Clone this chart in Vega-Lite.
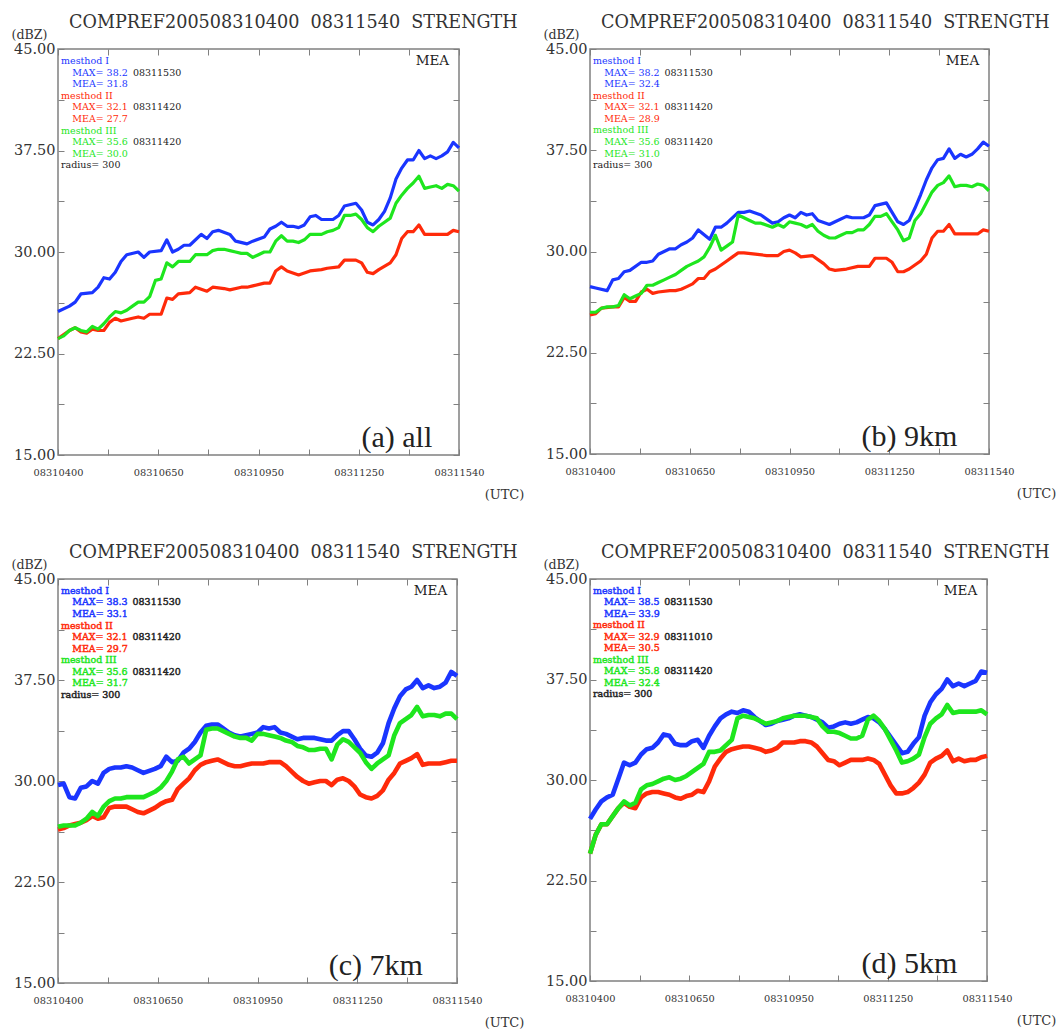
{
"$schema":"https://vega.github.io/schema/vega-lite/v6.json",
"background":"white",
"padding":{"left":10,"top":13,"right":0,"bottom":0},
"config":{
 "view":{"stroke":"#808080","strokeWidth":1.5},
 "axis":{"grid":false,"domain":false,"tickColor":"#808080","tickWidth":1,"tickSize":-6,"labelFlush":false,"labelOverlap":false,"labelBound":false,"labelColor":"#333","titleColor":"#333","titleFontWeight":"normal","labelFont":"DejaVu Serif","titleFont":"DejaVu Serif"},
 "title":{"font":"DejaVu Serif","fontSize":17.6,"fontWeight":"normal","color":"#333","anchor":"start","frame":"group","dx":11,"offset":-4,"baseline":"alphabetic"}
},
"datasets":{
"d":[
{"p":"a","m":"I","s":0,"v":25.6},{"p":"a","m":"I","s":2,"v":26.0},{"p":"a","m":"I","s":3,"v":26.3},{"p":"a","m":"I","s":4,"v":26.9},{"p":"a","m":"I","s":6,"v":27.0},{"p":"a","m":"I","s":7,"v":27.4},{"p":"a","m":"I","s":8,"v":28.1},{"p":"a","m":"I","s":9,"v":28.0},{"p":"a","m":"I","s":10,"v":28.5},{"p":"a","m":"I","s":11,"v":29.3},{"p":"a","m":"I","s":12,"v":29.8},{"p":"a","m":"I","s":14,"v":30.0},{"p":"a","m":"I","s":15,"v":29.6},{"p":"a","m":"I","s":16,"v":30.0},{"p":"a","m":"I","s":18,"v":30.1},{"p":"a","m":"I","s":19,"v":30.9},{"p":"a","m":"I","s":20,"v":30.0},{"p":"a","m":"I","s":21,"v":30.2},{"p":"a","m":"I","s":22,"v":30.5},{"p":"a","m":"I","s":23,"v":30.5},{"p":"a","m":"I","s":25,"v":31.3},{"p":"a","m":"I","s":26,"v":31.0},{"p":"a","m":"I","s":27,"v":31.5},{"p":"a","m":"I","s":28,"v":31.6},{"p":"a","m":"I","s":30,"v":31.3},{"p":"a","m":"I","s":31,"v":30.8},{"p":"a","m":"I","s":33,"v":30.6},{"p":"a","m":"I","s":34,"v":30.8},{"p":"a","m":"I","s":36,"v":31.1},{"p":"a","m":"I","s":37,"v":31.7},{"p":"a","m":"I","s":38,"v":31.9},{"p":"a","m":"I","s":39,"v":32.2},{"p":"a","m":"I","s":40,"v":31.9},{"p":"a","m":"I","s":41,"v":31.9},{"p":"a","m":"I","s":42,"v":31.8},{"p":"a","m":"I","s":43,"v":32.0},{"p":"a","m":"I","s":44,"v":32.6},{"p":"a","m":"I","s":45,"v":32.7},{"p":"a","m":"I","s":46,"v":32.4},{"p":"a","m":"I","s":48,"v":32.4},{"p":"a","m":"I","s":49,"v":32.7},{"p":"a","m":"I","s":50,"v":33.4},{"p":"a","m":"I","s":52,"v":33.6},{"p":"a","m":"I","s":53,"v":33.1},{"p":"a","m":"I","s":54,"v":32.2},{"p":"a","m":"I","s":55,"v":32.0},{"p":"a","m":"I","s":56,"v":32.4},{"p":"a","m":"I","s":57,"v":33.0},{"p":"a","m":"I","s":58,"v":34.0},{"p":"a","m":"I","s":59,"v":35.4},{"p":"a","m":"I","s":60,"v":36.2},{"p":"a","m":"I","s":61,"v":36.8},{"p":"a","m":"I","s":62,"v":36.8},{"p":"a","m":"I","s":63,"v":37.5},{"p":"a","m":"I","s":64,"v":36.9},{"p":"a","m":"I","s":65,"v":37.1},{"p":"a","m":"I","s":66,"v":36.9},{"p":"a","m":"I","s":67,"v":37.1},{"p":"a","m":"I","s":68,"v":37.4},{"p":"a","m":"I","s":69,"v":38.1},{"p":"a","m":"I","s":70,"v":37.7},
{"p":"a","m":"II","s":0,"v":23.6},{"p":"a","m":"II","s":2,"v":24.2},{"p":"a","m":"II","s":3,"v":24.4},{"p":"a","m":"II","s":4,"v":24.1},{"p":"a","m":"II","s":5,"v":24.0},{"p":"a","m":"II","s":6,"v":24.3},{"p":"a","m":"II","s":7,"v":24.2},{"p":"a","m":"II","s":8,"v":24.2},{"p":"a","m":"II","s":9,"v":24.8},{"p":"a","m":"II","s":10,"v":25.1},{"p":"a","m":"II","s":11,"v":24.9},{"p":"a","m":"II","s":13,"v":25.1},{"p":"a","m":"II","s":14,"v":25.2},{"p":"a","m":"II","s":15,"v":25.1},{"p":"a","m":"II","s":16,"v":25.4},{"p":"a","m":"II","s":18,"v":25.4},{"p":"a","m":"II","s":19,"v":26.6},{"p":"a","m":"II","s":20,"v":26.5},{"p":"a","m":"II","s":21,"v":26.9},{"p":"a","m":"II","s":23,"v":27.0},{"p":"a","m":"II","s":24,"v":27.4},{"p":"a","m":"II","s":26,"v":27.1},{"p":"a","m":"II","s":27,"v":27.4},{"p":"a","m":"II","s":29,"v":27.3},{"p":"a","m":"II","s":30,"v":27.2},{"p":"a","m":"II","s":32,"v":27.4},{"p":"a","m":"II","s":33,"v":27.4},{"p":"a","m":"II","s":34,"v":27.5},{"p":"a","m":"II","s":36,"v":27.7},{"p":"a","m":"II","s":37,"v":27.7},{"p":"a","m":"II","s":38,"v":28.6},{"p":"a","m":"II","s":39,"v":28.9},{"p":"a","m":"II","s":40,"v":28.6},{"p":"a","m":"II","s":42,"v":28.3},{"p":"a","m":"II","s":44,"v":28.6},{"p":"a","m":"II","s":46,"v":28.7},{"p":"a","m":"II","s":47,"v":28.8},{"p":"a","m":"II","s":49,"v":28.9},{"p":"a","m":"II","s":50,"v":29.4},{"p":"a","m":"II","s":52,"v":29.4},{"p":"a","m":"II","s":53,"v":29.2},{"p":"a","m":"II","s":54,"v":28.5},{"p":"a","m":"II","s":55,"v":28.4},{"p":"a","m":"II","s":56,"v":28.7},{"p":"a","m":"II","s":58,"v":29.2},{"p":"a","m":"II","s":59,"v":29.8},{"p":"a","m":"II","s":60,"v":31.0},{"p":"a","m":"II","s":61,"v":31.5},{"p":"a","m":"II","s":62,"v":31.5},{"p":"a","m":"II","s":63,"v":32.0},{"p":"a","m":"II","s":64,"v":31.3},{"p":"a","m":"II","s":65,"v":31.3},{"p":"a","m":"II","s":66,"v":31.3},{"p":"a","m":"II","s":68,"v":31.3},{"p":"a","m":"II","s":69,"v":31.6},{"p":"a","m":"II","s":70,"v":31.5},
{"p":"a","m":"III","s":0,"v":23.6},{"p":"a","m":"III","s":1,"v":23.8},{"p":"a","m":"III","s":2,"v":24.2},{"p":"a","m":"III","s":3,"v":24.4},{"p":"a","m":"III","s":4,"v":24.2},{"p":"a","m":"III","s":5,"v":24.1},{"p":"a","m":"III","s":6,"v":24.5},{"p":"a","m":"III","s":7,"v":24.3},{"p":"a","m":"III","s":8,"v":24.7},{"p":"a","m":"III","s":9,"v":25.2},{"p":"a","m":"III","s":10,"v":25.6},{"p":"a","m":"III","s":11,"v":25.5},{"p":"a","m":"III","s":12,"v":25.7},{"p":"a","m":"III","s":13,"v":26.0},{"p":"a","m":"III","s":14,"v":26.3},{"p":"a","m":"III","s":15,"v":26.3},{"p":"a","m":"III","s":16,"v":26.7},{"p":"a","m":"III","s":17,"v":27.9},{"p":"a","m":"III","s":18,"v":28.0},{"p":"a","m":"III","s":19,"v":29.2},{"p":"a","m":"III","s":20,"v":28.9},{"p":"a","m":"III","s":21,"v":29.3},{"p":"a","m":"III","s":22,"v":29.3},{"p":"a","m":"III","s":23,"v":29.3},{"p":"a","m":"III","s":24,"v":29.8},{"p":"a","m":"III","s":25,"v":29.8},{"p":"a","m":"III","s":26,"v":29.8},{"p":"a","m":"III","s":27,"v":30.1},{"p":"a","m":"III","s":28,"v":30.2},{"p":"a","m":"III","s":29,"v":30.2},{"p":"a","m":"III","s":30,"v":30.1},{"p":"a","m":"III","s":31,"v":30.0},{"p":"a","m":"III","s":32,"v":29.9},{"p":"a","m":"III","s":33,"v":29.9},{"p":"a","m":"III","s":34,"v":29.6},{"p":"a","m":"III","s":35,"v":29.8},{"p":"a","m":"III","s":36,"v":30.0},{"p":"a","m":"III","s":37,"v":30.0},{"p":"a","m":"III","s":38,"v":30.8},{"p":"a","m":"III","s":39,"v":31.2},{"p":"a","m":"III","s":40,"v":30.8},{"p":"a","m":"III","s":41,"v":30.8},{"p":"a","m":"III","s":42,"v":30.7},{"p":"a","m":"III","s":43,"v":30.9},{"p":"a","m":"III","s":44,"v":31.3},{"p":"a","m":"III","s":45,"v":31.3},{"p":"a","m":"III","s":46,"v":31.3},{"p":"a","m":"III","s":47,"v":31.5},{"p":"a","m":"III","s":48,"v":31.6},{"p":"a","m":"III","s":49,"v":31.8},{"p":"a","m":"III","s":50,"v":32.7},{"p":"a","m":"III","s":51,"v":32.7},{"p":"a","m":"III","s":52,"v":32.8},{"p":"a","m":"III","s":53,"v":32.4},{"p":"a","m":"III","s":54,"v":31.8},{"p":"a","m":"III","s":55,"v":31.5},{"p":"a","m":"III","s":56,"v":31.9},{"p":"a","m":"III","s":57,"v":32.2},{"p":"a","m":"III","s":58,"v":32.5},{"p":"a","m":"III","s":59,"v":33.6},{"p":"a","m":"III","s":60,"v":34.2},{"p":"a","m":"III","s":61,"v":34.7},{"p":"a","m":"III","s":62,"v":35.1},{"p":"a","m":"III","s":63,"v":35.6},{"p":"a","m":"III","s":64,"v":34.7},{"p":"a","m":"III","s":65,"v":34.8},{"p":"a","m":"III","s":66,"v":34.9},{"p":"a","m":"III","s":67,"v":34.7},{"p":"a","m":"III","s":68,"v":35.0},{"p":"a","m":"III","s":69,"v":34.9},{"p":"a","m":"III","s":70,"v":34.5},
{"p":"b","m":"I","s":0,"v":27.4},{"p":"b","m":"I","s":1,"v":27.3},{"p":"b","m":"I","s":3,"v":27.1},{"p":"b","m":"I","s":4,"v":27.9},{"p":"b","m":"I","s":5,"v":28.0},{"p":"b","m":"I","s":6,"v":28.5},{"p":"b","m":"I","s":7,"v":28.6},{"p":"b","m":"I","s":9,"v":29.2},{"p":"b","m":"I","s":10,"v":29.2},{"p":"b","m":"I","s":11,"v":29.3},{"p":"b","m":"I","s":12,"v":29.8},{"p":"b","m":"I","s":14,"v":30.2},{"p":"b","m":"I","s":15,"v":30.2},{"p":"b","m":"I","s":16,"v":30.5},{"p":"b","m":"I","s":17,"v":30.7},{"p":"b","m":"I","s":18,"v":31.0},{"p":"b","m":"I","s":19,"v":31.6},{"p":"b","m":"I","s":21,"v":30.9},{"p":"b","m":"I","s":22,"v":31.8},{"p":"b","m":"I","s":23,"v":31.8},{"p":"b","m":"I","s":24,"v":32.1},{"p":"b","m":"I","s":26,"v":32.9},{"p":"b","m":"I","s":27,"v":32.9},{"p":"b","m":"I","s":28,"v":33.0},{"p":"b","m":"I","s":30,"v":32.7},{"p":"b","m":"I","s":32,"v":32.1},{"p":"b","m":"I","s":33,"v":32.2},{"p":"b","m":"I","s":34,"v":32.5},{"p":"b","m":"I","s":35,"v":32.7},{"p":"b","m":"I","s":36,"v":32.5},{"p":"b","m":"I","s":37,"v":32.9},{"p":"b","m":"I","s":38,"v":32.7},{"p":"b","m":"I","s":39,"v":32.8},{"p":"b","m":"I","s":40,"v":32.3},{"p":"b","m":"I","s":42,"v":32.0},{"p":"b","m":"I","s":43,"v":32.2},{"p":"b","m":"I","s":45,"v":32.6},{"p":"b","m":"I","s":46,"v":32.5},{"p":"b","m":"I","s":48,"v":32.5},{"p":"b","m":"I","s":49,"v":32.7},{"p":"b","m":"I","s":50,"v":33.4},{"p":"b","m":"I","s":52,"v":33.6},{"p":"b","m":"I","s":53,"v":32.9},{"p":"b","m":"I","s":54,"v":32.2},{"p":"b","m":"I","s":55,"v":32.0},{"p":"b","m":"I","s":56,"v":32.3},{"p":"b","m":"I","s":57,"v":33.2},{"p":"b","m":"I","s":58,"v":34.2},{"p":"b","m":"I","s":59,"v":35.3},{"p":"b","m":"I","s":60,"v":36.2},{"p":"b","m":"I","s":61,"v":36.8},{"p":"b","m":"I","s":62,"v":36.9},{"p":"b","m":"I","s":63,"v":37.6},{"p":"b","m":"I","s":64,"v":36.9},{"p":"b","m":"I","s":65,"v":37.2},{"p":"b","m":"I","s":66,"v":37.0},{"p":"b","m":"I","s":67,"v":37.2},{"p":"b","m":"I","s":68,"v":37.6},{"p":"b","m":"I","s":69,"v":38.1},{"p":"b","m":"I","s":70,"v":37.8},
{"p":"b","m":"II","s":0,"v":25.3},{"p":"b","m":"II","s":1,"v":25.4},{"p":"b","m":"II","s":2,"v":25.8},{"p":"b","m":"II","s":4,"v":25.9},{"p":"b","m":"II","s":5,"v":25.9},{"p":"b","m":"II","s":6,"v":26.6},{"p":"b","m":"II","s":7,"v":26.3},{"p":"b","m":"II","s":8,"v":26.3},{"p":"b","m":"II","s":9,"v":27.0},{"p":"b","m":"II","s":10,"v":27.2},{"p":"b","m":"II","s":11,"v":26.9},{"p":"b","m":"II","s":12,"v":27.0},{"p":"b","m":"II","s":14,"v":27.1},{"p":"b","m":"II","s":15,"v":27.1},{"p":"b","m":"II","s":16,"v":27.2},{"p":"b","m":"II","s":17,"v":27.4},{"p":"b","m":"II","s":18,"v":27.6},{"p":"b","m":"II","s":19,"v":28.0},{"p":"b","m":"II","s":20,"v":28.0},{"p":"b","m":"II","s":21,"v":28.5},{"p":"b","m":"II","s":22,"v":28.7},{"p":"b","m":"II","s":23,"v":29.0},{"p":"b","m":"II","s":24,"v":29.3},{"p":"b","m":"II","s":25,"v":29.6},{"p":"b","m":"II","s":26,"v":29.9},{"p":"b","m":"II","s":27,"v":29.9},{"p":"b","m":"II","s":29,"v":29.8},{"p":"b","m":"II","s":31,"v":29.7},{"p":"b","m":"II","s":33,"v":29.7},{"p":"b","m":"II","s":34,"v":30.0},{"p":"b","m":"II","s":35,"v":30.1},{"p":"b","m":"II","s":36,"v":29.9},{"p":"b","m":"II","s":37,"v":29.6},{"p":"b","m":"II","s":39,"v":29.7},{"p":"b","m":"II","s":40,"v":29.4},{"p":"b","m":"II","s":41,"v":29.1},{"p":"b","m":"II","s":42,"v":28.7},{"p":"b","m":"II","s":43,"v":28.6},{"p":"b","m":"II","s":45,"v":28.7},{"p":"b","m":"II","s":47,"v":28.9},{"p":"b","m":"II","s":49,"v":28.9},{"p":"b","m":"II","s":50,"v":29.5},{"p":"b","m":"II","s":52,"v":29.5},{"p":"b","m":"II","s":53,"v":29.2},{"p":"b","m":"II","s":54,"v":28.5},{"p":"b","m":"II","s":55,"v":28.5},{"p":"b","m":"II","s":56,"v":28.7},{"p":"b","m":"II","s":58,"v":29.3},{"p":"b","m":"II","s":59,"v":29.8},{"p":"b","m":"II","s":60,"v":31.0},{"p":"b","m":"II","s":61,"v":31.5},{"p":"b","m":"II","s":62,"v":31.5},{"p":"b","m":"II","s":63,"v":32.0},{"p":"b","m":"II","s":64,"v":31.3},{"p":"b","m":"II","s":65,"v":31.3},{"p":"b","m":"II","s":66,"v":31.3},{"p":"b","m":"II","s":68,"v":31.3},{"p":"b","m":"II","s":69,"v":31.6},{"p":"b","m":"II","s":70,"v":31.5},
{"p":"b","m":"III","s":0,"v":25.5},{"p":"b","m":"III","s":1,"v":25.5},{"p":"b","m":"III","s":2,"v":25.8},{"p":"b","m":"III","s":3,"v":25.9},{"p":"b","m":"III","s":4,"v":25.9},{"p":"b","m":"III","s":5,"v":26.0},{"p":"b","m":"III","s":6,"v":26.8},{"p":"b","m":"III","s":7,"v":26.5},{"p":"b","m":"III","s":8,"v":26.7},{"p":"b","m":"III","s":9,"v":26.9},{"p":"b","m":"III","s":10,"v":27.5},{"p":"b","m":"III","s":11,"v":27.5},{"p":"b","m":"III","s":12,"v":27.7},{"p":"b","m":"III","s":13,"v":27.9},{"p":"b","m":"III","s":14,"v":28.1},{"p":"b","m":"III","s":15,"v":28.3},{"p":"b","m":"III","s":16,"v":28.6},{"p":"b","m":"III","s":17,"v":28.9},{"p":"b","m":"III","s":18,"v":29.1},{"p":"b","m":"III","s":19,"v":29.3},{"p":"b","m":"III","s":20,"v":29.6},{"p":"b","m":"III","s":21,"v":30.3},{"p":"b","m":"III","s":22,"v":31.2},{"p":"b","m":"III","s":23,"v":30.1},{"p":"b","m":"III","s":24,"v":30.4},{"p":"b","m":"III","s":25,"v":30.7},{"p":"b","m":"III","s":26,"v":32.7},{"p":"b","m":"III","s":27,"v":32.5},{"p":"b","m":"III","s":28,"v":32.3},{"p":"b","m":"III","s":29,"v":32.1},{"p":"b","m":"III","s":30,"v":32.1},{"p":"b","m":"III","s":32,"v":31.8},{"p":"b","m":"III","s":33,"v":32.0},{"p":"b","m":"III","s":34,"v":31.8},{"p":"b","m":"III","s":35,"v":32.2},{"p":"b","m":"III","s":36,"v":32.1},{"p":"b","m":"III","s":37,"v":32.0},{"p":"b","m":"III","s":38,"v":31.8},{"p":"b","m":"III","s":39,"v":32.0},{"p":"b","m":"III","s":40,"v":31.5},{"p":"b","m":"III","s":41,"v":31.2},{"p":"b","m":"III","s":42,"v":31.0},{"p":"b","m":"III","s":43,"v":31.0},{"p":"b","m":"III","s":44,"v":31.2},{"p":"b","m":"III","s":45,"v":31.4},{"p":"b","m":"III","s":46,"v":31.4},{"p":"b","m":"III","s":47,"v":31.6},{"p":"b","m":"III","s":48,"v":31.6},{"p":"b","m":"III","s":49,"v":32.0},{"p":"b","m":"III","s":50,"v":32.6},{"p":"b","m":"III","s":51,"v":32.6},{"p":"b","m":"III","s":52,"v":32.8},{"p":"b","m":"III","s":53,"v":32.2},{"p":"b","m":"III","s":54,"v":31.6},{"p":"b","m":"III","s":55,"v":30.8},{"p":"b","m":"III","s":56,"v":31.0},{"p":"b","m":"III","s":57,"v":32.3},{"p":"b","m":"III","s":58,"v":32.8},{"p":"b","m":"III","s":59,"v":33.6},{"p":"b","m":"III","s":60,"v":34.4},{"p":"b","m":"III","s":61,"v":34.9},{"p":"b","m":"III","s":62,"v":35.1},{"p":"b","m":"III","s":63,"v":35.6},{"p":"b","m":"III","s":64,"v":34.8},{"p":"b","m":"III","s":65,"v":34.9},{"p":"b","m":"III","s":66,"v":34.9},{"p":"b","m":"III","s":67,"v":34.8},{"p":"b","m":"III","s":68,"v":35.0},{"p":"b","m":"III","s":69,"v":34.9},{"p":"b","m":"III","s":70,"v":34.5},
{"p":"c","m":"I","s":0,"v":29.7},{"p":"c","m":"I","s":1,"v":29.8},{"p":"c","m":"I","s":2,"v":28.8},{"p":"c","m":"I","s":3,"v":28.7},{"p":"c","m":"I","s":4,"v":29.5},{"p":"c","m":"I","s":5,"v":29.6},{"p":"c","m":"I","s":6,"v":30.0},{"p":"c","m":"I","s":7,"v":29.8},{"p":"c","m":"I","s":8,"v":30.6},{"p":"c","m":"I","s":9,"v":30.9},{"p":"c","m":"I","s":10,"v":31.0},{"p":"c","m":"I","s":11,"v":31.0},{"p":"c","m":"I","s":12,"v":31.1},{"p":"c","m":"I","s":13,"v":31.0},{"p":"c","m":"I","s":14,"v":30.8},{"p":"c","m":"I","s":15,"v":30.6},{"p":"c","m":"I","s":17,"v":30.9},{"p":"c","m":"I","s":18,"v":31.1},{"p":"c","m":"I","s":19,"v":31.8},{"p":"c","m":"I","s":20,"v":31.4},{"p":"c","m":"I","s":21,"v":31.5},{"p":"c","m":"I","s":22,"v":32.1},{"p":"c","m":"I","s":23,"v":32.4},{"p":"c","m":"I","s":24,"v":32.9},{"p":"c","m":"I","s":25,"v":33.6},{"p":"c","m":"I","s":26,"v":34.1},{"p":"c","m":"I","s":27,"v":34.2},{"p":"c","m":"I","s":28,"v":34.2},{"p":"c","m":"I","s":29,"v":33.9},{"p":"c","m":"I","s":30,"v":33.6},{"p":"c","m":"I","s":31,"v":33.4},{"p":"c","m":"I","s":32,"v":33.3},{"p":"c","m":"I","s":33,"v":33.4},{"p":"c","m":"I","s":34,"v":33.5},{"p":"c","m":"I","s":35,"v":33.6},{"p":"c","m":"I","s":36,"v":34.0},{"p":"c","m":"I","s":37,"v":33.9},{"p":"c","m":"I","s":38,"v":34.0},{"p":"c","m":"I","s":39,"v":33.6},{"p":"c","m":"I","s":40,"v":33.5},{"p":"c","m":"I","s":41,"v":33.3},{"p":"c","m":"I","s":42,"v":33.1},{"p":"c","m":"I","s":43,"v":33.2},{"p":"c","m":"I","s":44,"v":33.2},{"p":"c","m":"I","s":45,"v":33.2},{"p":"c","m":"I","s":46,"v":33.1},{"p":"c","m":"I","s":47,"v":33.0},{"p":"c","m":"I","s":48,"v":33.0},{"p":"c","m":"I","s":49,"v":33.4},{"p":"c","m":"I","s":50,"v":33.7},{"p":"c","m":"I","s":51,"v":33.7},{"p":"c","m":"I","s":52,"v":33.1},{"p":"c","m":"I","s":53,"v":32.4},{"p":"c","m":"I","s":54,"v":31.9},{"p":"c","m":"I","s":55,"v":31.8},{"p":"c","m":"I","s":56,"v":32.1},{"p":"c","m":"I","s":57,"v":32.8},{"p":"c","m":"I","s":58,"v":34.3},{"p":"c","m":"I","s":59,"v":35.4},{"p":"c","m":"I","s":60,"v":36.3},{"p":"c","m":"I","s":61,"v":36.8},{"p":"c","m":"I","s":62,"v":37.0},{"p":"c","m":"I","s":63,"v":37.5},{"p":"c","m":"I","s":64,"v":36.9},{"p":"c","m":"I","s":65,"v":37.1},{"p":"c","m":"I","s":66,"v":36.9},{"p":"c","m":"I","s":67,"v":37.0},{"p":"c","m":"I","s":68,"v":37.3},{"p":"c","m":"I","s":69,"v":38.1},{"p":"c","m":"I","s":70,"v":37.8},
{"p":"c","m":"II","s":0,"v":26.4},{"p":"c","m":"II","s":1,"v":26.5},{"p":"c","m":"II","s":2,"v":26.7},{"p":"c","m":"II","s":3,"v":26.8},{"p":"c","m":"II","s":4,"v":26.9},{"p":"c","m":"II","s":5,"v":27.1},{"p":"c","m":"II","s":6,"v":27.4},{"p":"c","m":"II","s":7,"v":27.2},{"p":"c","m":"II","s":8,"v":27.3},{"p":"c","m":"II","s":9,"v":28.0},{"p":"c","m":"II","s":10,"v":28.1},{"p":"c","m":"II","s":11,"v":28.1},{"p":"c","m":"II","s":12,"v":28.1},{"p":"c","m":"II","s":13,"v":27.9},{"p":"c","m":"II","s":14,"v":27.7},{"p":"c","m":"II","s":15,"v":27.6},{"p":"c","m":"II","s":16,"v":27.8},{"p":"c","m":"II","s":17,"v":28.0},{"p":"c","m":"II","s":18,"v":28.3},{"p":"c","m":"II","s":19,"v":28.5},{"p":"c","m":"II","s":20,"v":28.6},{"p":"c","m":"II","s":21,"v":29.4},{"p":"c","m":"II","s":22,"v":29.8},{"p":"c","m":"II","s":23,"v":30.2},{"p":"c","m":"II","s":24,"v":30.8},{"p":"c","m":"II","s":25,"v":31.2},{"p":"c","m":"II","s":26,"v":31.4},{"p":"c","m":"II","s":27,"v":31.5},{"p":"c","m":"II","s":28,"v":31.6},{"p":"c","m":"II","s":29,"v":31.4},{"p":"c","m":"II","s":30,"v":31.2},{"p":"c","m":"II","s":31,"v":31.1},{"p":"c","m":"II","s":32,"v":31.1},{"p":"c","m":"II","s":33,"v":31.2},{"p":"c","m":"II","s":34,"v":31.3},{"p":"c","m":"II","s":35,"v":31.3},{"p":"c","m":"II","s":36,"v":31.3},{"p":"c","m":"II","s":37,"v":31.4},{"p":"c","m":"II","s":38,"v":31.4},{"p":"c","m":"II","s":39,"v":31.4},{"p":"c","m":"II","s":40,"v":31.1},{"p":"c","m":"II","s":41,"v":30.7},{"p":"c","m":"II","s":42,"v":30.3},{"p":"c","m":"II","s":43,"v":30.0},{"p":"c","m":"II","s":44,"v":29.8},{"p":"c","m":"II","s":45,"v":29.9},{"p":"c","m":"II","s":46,"v":30.0},{"p":"c","m":"II","s":47,"v":30.0},{"p":"c","m":"II","s":48,"v":29.7},{"p":"c","m":"II","s":49,"v":30.1},{"p":"c","m":"II","s":50,"v":30.2},{"p":"c","m":"II","s":51,"v":30.0},{"p":"c","m":"II","s":52,"v":29.6},{"p":"c","m":"II","s":53,"v":29.0},{"p":"c","m":"II","s":54,"v":28.8},{"p":"c","m":"II","s":55,"v":28.7},{"p":"c","m":"II","s":56,"v":28.9},{"p":"c","m":"II","s":57,"v":29.3},{"p":"c","m":"II","s":58,"v":30.1},{"p":"c","m":"II","s":59,"v":30.6},{"p":"c","m":"II","s":60,"v":31.3},{"p":"c","m":"II","s":61,"v":31.5},{"p":"c","m":"II","s":62,"v":31.7},{"p":"c","m":"II","s":63,"v":32.0},{"p":"c","m":"II","s":64,"v":31.2},{"p":"c","m":"II","s":65,"v":31.3},{"p":"c","m":"II","s":66,"v":31.3},{"p":"c","m":"II","s":67,"v":31.3},{"p":"c","m":"II","s":68,"v":31.4},{"p":"c","m":"II","s":69,"v":31.5},{"p":"c","m":"II","s":70,"v":31.5},
{"p":"c","m":"III","s":0,"v":26.6},{"p":"c","m":"III","s":1,"v":26.7},{"p":"c","m":"III","s":2,"v":26.7},{"p":"c","m":"III","s":3,"v":26.7},{"p":"c","m":"III","s":4,"v":26.9},{"p":"c","m":"III","s":5,"v":27.2},{"p":"c","m":"III","s":6,"v":27.7},{"p":"c","m":"III","s":7,"v":27.4},{"p":"c","m":"III","s":8,"v":28.1},{"p":"c","m":"III","s":9,"v":28.5},{"p":"c","m":"III","s":10,"v":28.7},{"p":"c","m":"III","s":11,"v":28.7},{"p":"c","m":"III","s":12,"v":28.8},{"p":"c","m":"III","s":13,"v":28.8},{"p":"c","m":"III","s":14,"v":28.8},{"p":"c","m":"III","s":15,"v":28.8},{"p":"c","m":"III","s":16,"v":29.0},{"p":"c","m":"III","s":17,"v":29.2},{"p":"c","m":"III","s":18,"v":29.5},{"p":"c","m":"III","s":19,"v":30.0},{"p":"c","m":"III","s":20,"v":30.7},{"p":"c","m":"III","s":21,"v":31.6},{"p":"c","m":"III","s":22,"v":31.8},{"p":"c","m":"III","s":23,"v":31.3},{"p":"c","m":"III","s":24,"v":31.6},{"p":"c","m":"III","s":25,"v":31.9},{"p":"c","m":"III","s":26,"v":33.8},{"p":"c","m":"III","s":27,"v":33.9},{"p":"c","m":"III","s":28,"v":33.9},{"p":"c","m":"III","s":29,"v":33.7},{"p":"c","m":"III","s":30,"v":33.5},{"p":"c","m":"III","s":31,"v":33.3},{"p":"c","m":"III","s":32,"v":33.2},{"p":"c","m":"III","s":33,"v":33.2},{"p":"c","m":"III","s":34,"v":33.0},{"p":"c","m":"III","s":35,"v":33.5},{"p":"c","m":"III","s":36,"v":33.5},{"p":"c","m":"III","s":37,"v":33.4},{"p":"c","m":"III","s":38,"v":33.3},{"p":"c","m":"III","s":39,"v":33.2},{"p":"c","m":"III","s":40,"v":33.0},{"p":"c","m":"III","s":41,"v":32.9},{"p":"c","m":"III","s":42,"v":32.6},{"p":"c","m":"III","s":43,"v":32.5},{"p":"c","m":"III","s":44,"v":32.3},{"p":"c","m":"III","s":45,"v":32.3},{"p":"c","m":"III","s":46,"v":32.4},{"p":"c","m":"III","s":47,"v":32.4},{"p":"c","m":"III","s":48,"v":31.6},{"p":"c","m":"III","s":49,"v":32.7},{"p":"c","m":"III","s":50,"v":33.1},{"p":"c","m":"III","s":51,"v":32.9},{"p":"c","m":"III","s":52,"v":32.5},{"p":"c","m":"III","s":53,"v":32.1},{"p":"c","m":"III","s":54,"v":31.4},{"p":"c","m":"III","s":55,"v":30.9},{"p":"c","m":"III","s":56,"v":31.3},{"p":"c","m":"III","s":57,"v":31.6},{"p":"c","m":"III","s":58,"v":31.9},{"p":"c","m":"III","s":59,"v":33.4},{"p":"c","m":"III","s":60,"v":34.3},{"p":"c","m":"III","s":61,"v":34.6},{"p":"c","m":"III","s":62,"v":34.9},{"p":"c","m":"III","s":63,"v":35.5},{"p":"c","m":"III","s":64,"v":34.8},{"p":"c","m":"III","s":65,"v":34.9},{"p":"c","m":"III","s":66,"v":34.9},{"p":"c","m":"III","s":67,"v":34.8},{"p":"c","m":"III","s":68,"v":35.0},{"p":"c","m":"III","s":69,"v":35.0},{"p":"c","m":"III","s":70,"v":34.6},
{"p":"d","m":"I","s":0,"v":27.1},{"p":"d","m":"I","s":1,"v":27.8},{"p":"d","m":"I","s":2,"v":28.4},{"p":"d","m":"I","s":3,"v":28.7},{"p":"d","m":"I","s":4,"v":28.9},{"p":"d","m":"I","s":5,"v":30.1},{"p":"d","m":"I","s":6,"v":31.3},{"p":"d","m":"I","s":7,"v":31.1},{"p":"d","m":"I","s":8,"v":31.3},{"p":"d","m":"I","s":9,"v":31.9},{"p":"d","m":"I","s":10,"v":32.3},{"p":"d","m":"I","s":11,"v":32.4},{"p":"d","m":"I","s":12,"v":32.8},{"p":"d","m":"I","s":13,"v":33.4},{"p":"d","m":"I","s":14,"v":33.3},{"p":"d","m":"I","s":15,"v":32.7},{"p":"d","m":"I","s":16,"v":32.6},{"p":"d","m":"I","s":17,"v":32.6},{"p":"d","m":"I","s":18,"v":32.9},{"p":"d","m":"I","s":19,"v":33.0},{"p":"d","m":"I","s":20,"v":32.4},{"p":"d","m":"I","s":21,"v":33.3},{"p":"d","m":"I","s":22,"v":34.0},{"p":"d","m":"I","s":23,"v":34.6},{"p":"d","m":"I","s":24,"v":34.9},{"p":"d","m":"I","s":25,"v":35.1},{"p":"d","m":"I","s":26,"v":35.0},{"p":"d","m":"I","s":27,"v":35.2},{"p":"d","m":"I","s":28,"v":35.1},{"p":"d","m":"I","s":29,"v":34.7},{"p":"d","m":"I","s":30,"v":34.4},{"p":"d","m":"I","s":31,"v":34.1},{"p":"d","m":"I","s":32,"v":34.2},{"p":"d","m":"I","s":33,"v":34.4},{"p":"d","m":"I","s":34,"v":34.5},{"p":"d","m":"I","s":35,"v":34.6},{"p":"d","m":"I","s":36,"v":34.8},{"p":"d","m":"I","s":37,"v":34.9},{"p":"d","m":"I","s":38,"v":34.8},{"p":"d","m":"I","s":39,"v":34.7},{"p":"d","m":"I","s":40,"v":34.5},{"p":"d","m":"I","s":41,"v":34.3},{"p":"d","m":"I","s":42,"v":33.9},{"p":"d","m":"I","s":43,"v":34.0},{"p":"d","m":"I","s":44,"v":34.2},{"p":"d","m":"I","s":45,"v":34.3},{"p":"d","m":"I","s":46,"v":34.2},{"p":"d","m":"I","s":47,"v":34.3},{"p":"d","m":"I","s":48,"v":34.5},{"p":"d","m":"I","s":49,"v":34.7},{"p":"d","m":"I","s":50,"v":34.6},{"p":"d","m":"I","s":51,"v":34.3},{"p":"d","m":"I","s":52,"v":33.8},{"p":"d","m":"I","s":53,"v":33.2},{"p":"d","m":"I","s":54,"v":32.6},{"p":"d","m":"I","s":55,"v":32.0},{"p":"d","m":"I","s":56,"v":32.1},{"p":"d","m":"I","s":57,"v":32.7},{"p":"d","m":"I","s":58,"v":33.2},{"p":"d","m":"I","s":59,"v":34.8},{"p":"d","m":"I","s":60,"v":35.8},{"p":"d","m":"I","s":61,"v":36.4},{"p":"d","m":"I","s":62,"v":36.8},{"p":"d","m":"I","s":63,"v":37.5},{"p":"d","m":"I","s":64,"v":37.0},{"p":"d","m":"I","s":65,"v":37.2},{"p":"d","m":"I","s":66,"v":37.0},{"p":"d","m":"I","s":67,"v":37.2},{"p":"d","m":"I","s":68,"v":37.4},{"p":"d","m":"I","s":69,"v":38.1},{"p":"d","m":"I","s":70,"v":38.0},
{"p":"d","m":"II","s":0,"v":24.5},{"p":"d","m":"II","s":1,"v":25.9},{"p":"d","m":"II","s":2,"v":26.7},{"p":"d","m":"II","s":3,"v":26.7},{"p":"d","m":"II","s":4,"v":27.3},{"p":"d","m":"II","s":5,"v":27.9},{"p":"d","m":"II","s":6,"v":28.3},{"p":"d","m":"II","s":7,"v":28.0},{"p":"d","m":"II","s":8,"v":27.9},{"p":"d","m":"II","s":9,"v":28.7},{"p":"d","m":"II","s":10,"v":29.0},{"p":"d","m":"II","s":11,"v":29.1},{"p":"d","m":"II","s":12,"v":29.1},{"p":"d","m":"II","s":13,"v":29.0},{"p":"d","m":"II","s":14,"v":28.9},{"p":"d","m":"II","s":15,"v":28.7},{"p":"d","m":"II","s":16,"v":28.6},{"p":"d","m":"II","s":17,"v":28.8},{"p":"d","m":"II","s":18,"v":28.9},{"p":"d","m":"II","s":19,"v":29.2},{"p":"d","m":"II","s":20,"v":29.1},{"p":"d","m":"II","s":21,"v":29.9},{"p":"d","m":"II","s":22,"v":31.0},{"p":"d","m":"II","s":23,"v":31.6},{"p":"d","m":"II","s":24,"v":32.1},{"p":"d","m":"II","s":25,"v":32.3},{"p":"d","m":"II","s":26,"v":32.4},{"p":"d","m":"II","s":27,"v":32.5},{"p":"d","m":"II","s":28,"v":32.5},{"p":"d","m":"II","s":29,"v":32.4},{"p":"d","m":"II","s":30,"v":32.3},{"p":"d","m":"II","s":31,"v":32.1},{"p":"d","m":"II","s":32,"v":32.2},{"p":"d","m":"II","s":33,"v":32.4},{"p":"d","m":"II","s":34,"v":32.8},{"p":"d","m":"II","s":35,"v":32.8},{"p":"d","m":"II","s":36,"v":32.8},{"p":"d","m":"II","s":37,"v":32.9},{"p":"d","m":"II","s":38,"v":32.9},{"p":"d","m":"II","s":39,"v":32.8},{"p":"d","m":"II","s":40,"v":32.5},{"p":"d","m":"II","s":41,"v":32.0},{"p":"d","m":"II","s":42,"v":31.5},{"p":"d","m":"II","s":43,"v":31.4},{"p":"d","m":"II","s":44,"v":31.1},{"p":"d","m":"II","s":45,"v":31.3},{"p":"d","m":"II","s":46,"v":31.5},{"p":"d","m":"II","s":47,"v":31.5},{"p":"d","m":"II","s":48,"v":31.5},{"p":"d","m":"II","s":49,"v":31.6},{"p":"d","m":"II","s":50,"v":31.5},{"p":"d","m":"II","s":51,"v":31.2},{"p":"d","m":"II","s":52,"v":30.4},{"p":"d","m":"II","s":53,"v":29.6},{"p":"d","m":"II","s":54,"v":29.0},{"p":"d","m":"II","s":55,"v":29.0},{"p":"d","m":"II","s":56,"v":29.1},{"p":"d","m":"II","s":57,"v":29.4},{"p":"d","m":"II","s":58,"v":29.8},{"p":"d","m":"II","s":59,"v":30.4},{"p":"d","m":"II","s":60,"v":31.3},{"p":"d","m":"II","s":61,"v":31.6},{"p":"d","m":"II","s":62,"v":31.8},{"p":"d","m":"II","s":63,"v":32.2},{"p":"d","m":"II","s":64,"v":31.4},{"p":"d","m":"II","s":65,"v":31.6},{"p":"d","m":"II","s":66,"v":31.4},{"p":"d","m":"II","s":67,"v":31.5},{"p":"d","m":"II","s":68,"v":31.5},{"p":"d","m":"II","s":69,"v":31.7},{"p":"d","m":"II","s":70,"v":31.8},
{"p":"d","m":"III","s":0,"v":24.5},{"p":"d","m":"III","s":1,"v":25.9},{"p":"d","m":"III","s":2,"v":26.7},{"p":"d","m":"III","s":3,"v":26.7},{"p":"d","m":"III","s":4,"v":27.3},{"p":"d","m":"III","s":5,"v":27.9},{"p":"d","m":"III","s":6,"v":28.4},{"p":"d","m":"III","s":7,"v":28.1},{"p":"d","m":"III","s":8,"v":28.3},{"p":"d","m":"III","s":9,"v":29.3},{"p":"d","m":"III","s":10,"v":29.6},{"p":"d","m":"III","s":11,"v":29.7},{"p":"d","m":"III","s":12,"v":29.9},{"p":"d","m":"III","s":13,"v":30.1},{"p":"d","m":"III","s":14,"v":30.2},{"p":"d","m":"III","s":15,"v":30.0},{"p":"d","m":"III","s":16,"v":30.1},{"p":"d","m":"III","s":17,"v":30.3},{"p":"d","m":"III","s":18,"v":30.6},{"p":"d","m":"III","s":19,"v":30.9},{"p":"d","m":"III","s":20,"v":31.2},{"p":"d","m":"III","s":21,"v":32.1},{"p":"d","m":"III","s":22,"v":32.1},{"p":"d","m":"III","s":23,"v":32.2},{"p":"d","m":"III","s":24,"v":32.6},{"p":"d","m":"III","s":25,"v":33.0},{"p":"d","m":"III","s":26,"v":34.6},{"p":"d","m":"III","s":27,"v":34.8},{"p":"d","m":"III","s":28,"v":34.7},{"p":"d","m":"III","s":29,"v":34.6},{"p":"d","m":"III","s":30,"v":34.4},{"p":"d","m":"III","s":31,"v":34.2},{"p":"d","m":"III","s":32,"v":34.3},{"p":"d","m":"III","s":33,"v":34.4},{"p":"d","m":"III","s":34,"v":34.6},{"p":"d","m":"III","s":35,"v":34.7},{"p":"d","m":"III","s":36,"v":34.8},{"p":"d","m":"III","s":37,"v":34.8},{"p":"d","m":"III","s":38,"v":34.8},{"p":"d","m":"III","s":39,"v":34.7},{"p":"d","m":"III","s":40,"v":34.6},{"p":"d","m":"III","s":41,"v":34.0},{"p":"d","m":"III","s":42,"v":33.6},{"p":"d","m":"III","s":43,"v":33.6},{"p":"d","m":"III","s":44,"v":33.5},{"p":"d","m":"III","s":45,"v":33.3},{"p":"d","m":"III","s":46,"v":33.1},{"p":"d","m":"III","s":47,"v":33.1},{"p":"d","m":"III","s":48,"v":33.3},{"p":"d","m":"III","s":49,"v":34.5},{"p":"d","m":"III","s":50,"v":34.8},{"p":"d","m":"III","s":51,"v":34.4},{"p":"d","m":"III","s":52,"v":33.8},{"p":"d","m":"III","s":53,"v":33.0},{"p":"d","m":"III","s":54,"v":32.2},{"p":"d","m":"III","s":55,"v":31.3},{"p":"d","m":"III","s":56,"v":31.4},{"p":"d","m":"III","s":57,"v":31.6},{"p":"d","m":"III","s":58,"v":31.9},{"p":"d","m":"III","s":59,"v":33.2},{"p":"d","m":"III","s":60,"v":34.2},{"p":"d","m":"III","s":61,"v":34.6},{"p":"d","m":"III","s":62,"v":34.9},{"p":"d","m":"III","s":63,"v":35.6},{"p":"d","m":"III","s":64,"v":35.0},{"p":"d","m":"III","s":65,"v":35.1},{"p":"d","m":"III","s":66,"v":35.1},{"p":"d","m":"III","s":67,"v":35.1},{"p":"d","m":"III","s":68,"v":35.1},{"p":"d","m":"III","s":69,"v":35.2},{"p":"d","m":"III","s":70,"v":34.9}
],
"n":[
{"p":"a","k":"n","line":0,"col":0,"txt":"mesthod I","m":"I"},{"p":"a","k":"n","line":1,"col":1.8,"txt":"MAX= 38.2","m":"I"},{"p":"a","k":"n","line":1,"col":11.5,"txt":"08311530","m":"K"},{"p":"a","k":"n","line":2,"col":1.8,"txt":"MEA= 31.8","m":"I"},{"p":"a","k":"n","line":3,"col":0,"txt":"mesthod II","m":"II"},{"p":"a","k":"n","line":4,"col":1.8,"txt":"MAX= 32.1","m":"II"},{"p":"a","k":"n","line":4,"col":11.5,"txt":"08311420","m":"K"},{"p":"a","k":"n","line":5,"col":1.8,"txt":"MEA= 27.7","m":"II"},{"p":"a","k":"n","line":6,"col":0,"txt":"mesthod III","m":"III"},{"p":"a","k":"n","line":7,"col":1.8,"txt":"MAX= 35.6","m":"III"},{"p":"a","k":"n","line":7,"col":11.5,"txt":"08311420","m":"K"},{"p":"a","k":"n","line":8,"col":1.8,"txt":"MEA= 30.0","m":"III"},{"p":"a","k":"n","line":9,"col":0,"txt":"radius= 300","m":"K"},{"p":"a","k":"mea","line":0,"col":62.1,"txt":"MEA","m":"K"},{"p":"a","k":"lab","line":33.28,"col":59.4,"txt":"(a) all","m":"K"},
{"p":"b","k":"n","line":0,"col":0,"txt":"mesthod I","m":"I"},{"p":"b","k":"n","line":1,"col":1.8,"txt":"MAX= 38.2","m":"I"},{"p":"b","k":"n","line":1,"col":11.5,"txt":"08311530","m":"K"},{"p":"b","k":"n","line":2,"col":1.8,"txt":"MEA= 32.4","m":"I"},{"p":"b","k":"n","line":3,"col":0,"txt":"mesthod II","m":"II"},{"p":"b","k":"n","line":4,"col":1.8,"txt":"MAX= 32.1","m":"II"},{"p":"b","k":"n","line":4,"col":11.5,"txt":"08311420","m":"K"},{"p":"b","k":"n","line":5,"col":1.8,"txt":"MEA= 28.9","m":"II"},{"p":"b","k":"n","line":6,"col":0,"txt":"mesthod III","m":"III"},{"p":"b","k":"n","line":7,"col":1.8,"txt":"MAX= 35.6","m":"III"},{"p":"b","k":"n","line":7,"col":11.5,"txt":"08311420","m":"K"},{"p":"b","k":"n","line":8,"col":1.8,"txt":"MEA= 31.0","m":"III"},{"p":"b","k":"n","line":9,"col":0,"txt":"radius= 300","m":"K"},{"p":"b","k":"mea","line":0,"col":62.1,"txt":"MEA","m":"K"},{"p":"b","k":"lab","line":33.28,"col":58.6,"txt":"(b) 9km","m":"K"},
{"p":"c","k":"n","line":0,"col":0,"txt":"mesthod I","m":"I"},{"p":"c","k":"n","line":1,"col":1.8,"txt":"MAX= 38.3","m":"I"},{"p":"c","k":"n","line":1,"col":11.5,"txt":"08311530","m":"K"},{"p":"c","k":"n","line":2,"col":1.8,"txt":"MEA= 33.1","m":"I"},{"p":"c","k":"n","line":3,"col":0,"txt":"mesthod II","m":"II"},{"p":"c","k":"n","line":4,"col":1.8,"txt":"MAX= 32.1","m":"II"},{"p":"c","k":"n","line":4,"col":11.5,"txt":"08311420","m":"K"},{"p":"c","k":"n","line":5,"col":1.8,"txt":"MEA= 29.7","m":"II"},{"p":"c","k":"n","line":6,"col":0,"txt":"mesthod III","m":"III"},{"p":"c","k":"n","line":7,"col":1.8,"txt":"MAX= 35.6","m":"III"},{"p":"c","k":"n","line":7,"col":11.5,"txt":"08311420","m":"K"},{"p":"c","k":"n","line":8,"col":1.8,"txt":"MEA= 31.7","m":"III"},{"p":"c","k":"n","line":9,"col":0,"txt":"radius= 300","m":"K"},{"p":"c","k":"mea","line":0,"col":62.1,"txt":"MEA","m":"K"},{"p":"c","k":"lab","line":33.28,"col":58.2,"txt":"(c) 7km","m":"K"},
{"p":"d","k":"n","line":0,"col":0,"txt":"mesthod I","m":"I"},{"p":"d","k":"n","line":1,"col":1.8,"txt":"MAX= 38.5","m":"I"},{"p":"d","k":"n","line":1,"col":11.5,"txt":"08311530","m":"K"},{"p":"d","k":"n","line":2,"col":1.8,"txt":"MEA= 33.9","m":"I"},{"p":"d","k":"n","line":3,"col":0,"txt":"mesthod II","m":"II"},{"p":"d","k":"n","line":4,"col":1.8,"txt":"MAX= 32.9","m":"II"},{"p":"d","k":"n","line":4,"col":11.5,"txt":"08311010","m":"K"},{"p":"d","k":"n","line":5,"col":1.8,"txt":"MEA= 30.5","m":"II"},{"p":"d","k":"n","line":6,"col":0,"txt":"mesthod III","m":"III"},{"p":"d","k":"n","line":7,"col":1.8,"txt":"MAX= 35.8","m":"III"},{"p":"d","k":"n","line":7,"col":11.5,"txt":"08311420","m":"K"},{"p":"d","k":"n","line":8,"col":1.8,"txt":"MEA= 32.4","m":"III"},{"p":"d","k":"n","line":9,"col":0,"txt":"radius= 300","m":"K"},{"p":"d","k":"mea","line":0,"col":62.1,"txt":"MEA","m":"K"},{"p":"d","k":"lab","line":33.28,"col":58.9,"txt":"(d) 5km","m":"K"}
]
},
"bounds":"flush",
"columns":2,
"spacing":{"row":124,"column":131},
"concat":[
 {"width":401,"height":406,"title":{"text":"COMPREF200508310400\u00a0 08311540\u00a0 STRENGTH"},
  "layer":[
   {"data":{"name":"d"},"transform":[{"filter":"datum.p=='a'"}],"mark":{"type":"line","strokeWidth":3.2,"strokeJoin":"round"},
    "encoding":{
     "x":{"field":"s","type":"quantitative","scale":{"domain":[0,70],"nice":false,"zero":false},"axis":{"values":[0,8.75,17.5,26.25,35,43.75,52.5,61.25,70],"labelExpr":"datum.value==0?'08310400':datum.value==17.5?'08310650':datum.value==35?'08310950':datum.value==52.5?'08311250':datum.value==70?'08311540':''","labelFontSize":9.8,"labelPadding":18,"title":"(UTC)","titleX":446,"titleY":39,"titleAlign":"center","titleBaseline":"middle","titleFontSize":13}},
     "y":{"field":"v","type":"quantitative","scale":{"domain":[15,45],"nice":false,"zero":false},"axis":{"values":[15,18.75,22.5,26.25,30,33.75,37.5,41.25,45],"labelExpr":"datum.value%7.5==0?format(datum.value,'.2f'):''","labelFontSize":14.5,"labelPadding":9,"title":"(dBZ)","titleAngle":0,"titleX":-29,"titleY":-11,"titleAlign":"center","titleBaseline":"alphabetic","titleFontSize":12.6}},
     "color":{"field":"m","type":"nominal","scale":{"domain":["I","II","III","K"],"range":["#1a35ff","#ff2a0a","#1ee61e","#222222"]},"legend":null}}},
   {"data":{"name":"d"},"transform":[{"filter":"datum.p=='a'"}],"mark":{"type":"point","opacity":0},
    "encoding":{
     "x":{"field":"s","type":"quantitative","scale":{"domain":[0,70],"nice":false,"zero":false},"axis":{"orient":"top","values":[0,8.75,17.5,26.25,35,43.75,52.5,61.25,70],"labels":false,"title":null}},
     "y":{"field":"v","type":"quantitative","scale":{"domain":[15,45],"nice":false,"zero":false},"axis":{"orient":"right","values":[15,18.75,22.5,26.25,30,33.75,37.5,41.25,45],"labels":false,"title":null}}}},
   {"data":{"name":"n"},"transform":[{"filter":"datum.p=='a'"}],
    "encoding":{
     "x":{"field":"col","type":"quantitative","scale":{"domain":[-0.48,63.68],"nice":false,"zero":false},"axis":null},
     "y":{"field":"line","type":"quantitative","scale":{"domain":[-1.034,33.966],"reverse":true,"nice":false,"zero":false},"axis":null},
     "color":{"field":"m","type":"nominal","legend":null},
     "text":{"field":"txt"}},
    "layer":[
     {"transform":[{"filter":"datum.k=='n'"}],"mark":{"type":"text","align":"left","baseline":"middle","font":"DejaVu Serif","fontSize":9.5}},
     {"transform":[{"filter":"datum.k=='mea'"}],"mark":{"type":"text","align":"right","baseline":"middle","font":"DejaVu Serif","fontSize":13.5}},
     {"transform":[{"filter":"datum.k=='lab'"}],"mark":{"type":"text","align":"right","baseline":"alphabetic","font":"Liberation Serif","fontSize":30}}
    ]}
  ],
  "resolve":{"scale":{"x":"independent","y":"independent"},"axis":{"x":"independent","y":"independent"}}},
 {"width":399,"height":405,"title":{"text":"COMPREF200508310400\u00a0 08311540\u00a0 STRENGTH"},
  "layer":[
   {"data":{"name":"d"},"transform":[{"filter":"datum.p=='b'"}],"mark":{"type":"line","strokeWidth":3.2,"strokeJoin":"round"},
    "encoding":{
     "x":{"field":"s","type":"quantitative","scale":{"domain":[0,70],"nice":false,"zero":false},"axis":{"values":[0,8.75,17.5,26.25,35,43.75,52.5,61.25,70],"labelExpr":"datum.value==0?'08310400':datum.value==17.5?'08310650':datum.value==35?'08310950':datum.value==52.5?'08311250':datum.value==70?'08311540':''","labelFontSize":9.8,"labelPadding":18,"title":"(UTC)","titleX":446,"titleY":39,"titleAlign":"center","titleBaseline":"middle","titleFontSize":13}},
     "y":{"field":"v","type":"quantitative","scale":{"domain":[15,45],"nice":false,"zero":false},"axis":{"values":[15,18.75,22.5,26.25,30,33.75,37.5,41.25,45],"labelExpr":"datum.value%7.5==0?format(datum.value,'.2f'):''","labelFontSize":14.5,"labelPadding":9,"title":"(dBZ)","titleAngle":0,"titleX":-29,"titleY":-11,"titleAlign":"center","titleBaseline":"alphabetic","titleFontSize":12.6}},
     "color":{"field":"m","type":"nominal","scale":{"domain":["I","II","III","K"],"range":["#1a35ff","#ff2a0a","#1ee61e","#222222"]},"legend":null}}},
   {"data":{"name":"d"},"transform":[{"filter":"datum.p=='b'"}],"mark":{"type":"point","opacity":0},
    "encoding":{
     "x":{"field":"s","type":"quantitative","scale":{"domain":[0,70],"nice":false,"zero":false},"axis":{"orient":"top","values":[0,8.75,17.5,26.25,35,43.75,52.5,61.25,70],"labels":false,"title":null}},
     "y":{"field":"v","type":"quantitative","scale":{"domain":[15,45],"nice":false,"zero":false},"axis":{"orient":"right","values":[15,18.75,22.5,26.25,30,33.75,37.5,41.25,45],"labels":false,"title":null}}}},
   {"data":{"name":"n"},"transform":[{"filter":"datum.p=='b'"}],
    "encoding":{
     "x":{"field":"col","type":"quantitative","scale":{"domain":[-0.48,63.68],"nice":false,"zero":false},"axis":null},
     "y":{"field":"line","type":"quantitative","scale":{"domain":[-1.034,33.966],"reverse":true,"nice":false,"zero":false},"axis":null},
     "color":{"field":"m","type":"nominal","legend":null},
     "text":{"field":"txt"}},
    "layer":[
     {"transform":[{"filter":"datum.k=='n'"}],"mark":{"type":"text","align":"left","baseline":"middle","font":"DejaVu Serif","fontSize":9.5}},
     {"transform":[{"filter":"datum.k=='mea'"}],"mark":{"type":"text","align":"right","baseline":"middle","font":"DejaVu Serif","fontSize":13.5}},
     {"transform":[{"filter":"datum.k=='lab'"}],"mark":{"type":"text","align":"right","baseline":"alphabetic","font":"Liberation Serif","fontSize":30}}
    ]}
  ],
  "resolve":{"scale":{"x":"independent","y":"independent"},"axis":{"x":"independent","y":"independent"}}},
 {"width":399,"height":404,"title":{"text":"COMPREF200508310400\u00a0 08311540\u00a0 STRENGTH"},
  "layer":[
   {"data":{"name":"d"},"transform":[{"filter":"datum.p=='c'"}],"mark":{"type":"line","strokeWidth":4.6,"strokeJoin":"round"},
    "encoding":{
     "x":{"field":"s","type":"quantitative","scale":{"domain":[0,70],"nice":false,"zero":false},"axis":{"values":[0,8.75,17.5,26.25,35,43.75,52.5,61.25,70],"labelExpr":"datum.value==0?'08310400':datum.value==17.5?'08310650':datum.value==35?'08310950':datum.value==52.5?'08311250':datum.value==70?'08311540':''","labelFontSize":9.8,"labelPadding":18,"title":"(UTC)","titleX":446,"titleY":39,"titleAlign":"center","titleBaseline":"middle","titleFontSize":13}},
     "y":{"field":"v","type":"quantitative","scale":{"domain":[15,45],"nice":false,"zero":false},"axis":{"values":[15,18.75,22.5,26.25,30,33.75,37.5,41.25,45],"labelExpr":"datum.value%7.5==0?format(datum.value,'.2f'):''","labelFontSize":14.5,"labelPadding":9,"title":"(dBZ)","titleAngle":0,"titleX":-29,"titleY":-11,"titleAlign":"center","titleBaseline":"alphabetic","titleFontSize":12.6}},
     "color":{"field":"m","type":"nominal","scale":{"domain":["I","II","III","K"],"range":["#1a35ff","#ff2a0a","#1ee61e","#222222"]},"legend":null}}},
   {"data":{"name":"d"},"transform":[{"filter":"datum.p=='c'"}],"mark":{"type":"point","opacity":0},
    "encoding":{
     "x":{"field":"s","type":"quantitative","scale":{"domain":[0,70],"nice":false,"zero":false},"axis":{"orient":"top","values":[0,8.75,17.5,26.25,35,43.75,52.5,61.25,70],"labels":false,"title":null}},
     "y":{"field":"v","type":"quantitative","scale":{"domain":[15,45],"nice":false,"zero":false},"axis":{"orient":"right","values":[15,18.75,22.5,26.25,30,33.75,37.5,41.25,45],"labels":false,"title":null}}}},
   {"data":{"name":"n"},"transform":[{"filter":"datum.p=='c'"}],
    "encoding":{
     "x":{"field":"col","type":"quantitative","scale":{"domain":[-0.48,63.68],"nice":false,"zero":false},"axis":null},
     "y":{"field":"line","type":"quantitative","scale":{"domain":[-1.034,33.966],"reverse":true,"nice":false,"zero":false},"axis":null},
     "color":{"field":"m","type":"nominal","legend":null},
     "text":{"field":"txt"}},
    "layer":[
     {"transform":[{"filter":"datum.k=='n'"}],"mark":{"type":"text","align":"left","baseline":"middle","font":"DejaVu Serif","fontSize":9.5,"strokeWidth":0.45},
      "encoding":{"stroke":{"field":"m","type":"nominal","scale":{"domain":["I","II","III","K"],"range":["#1a35ff","#ff2a0a","#1ee61e","#222222"]},"legend":null}}},
     {"transform":[{"filter":"datum.k=='mea'"}],"mark":{"type":"text","align":"right","baseline":"middle","font":"DejaVu Serif","fontSize":13.5}},
     {"transform":[{"filter":"datum.k=='lab'"}],"mark":{"type":"text","align":"right","baseline":"alphabetic","font":"Liberation Serif","fontSize":30}}
    ]}
  ],
  "resolve":{"scale":{"x":"independent","y":"independent"},"axis":{"x":"independent","y":"independent"}}},
 {"width":397,"height":402,"title":{"text":"COMPREF200508310400\u00a0 08311540\u00a0 STRENGTH"},
  "layer":[
   {"data":{"name":"d"},"transform":[{"filter":"datum.p=='d'"}],"mark":{"type":"line","strokeWidth":4.6,"strokeJoin":"round"},
    "encoding":{
     "x":{"field":"s","type":"quantitative","scale":{"domain":[0,70],"nice":false,"zero":false},"axis":{"values":[0,8.75,17.5,26.25,35,43.75,52.5,61.25,70],"labelExpr":"datum.value==0?'08310400':datum.value==17.5?'08310650':datum.value==35?'08310950':datum.value==52.5?'08311250':datum.value==70?'08311540':''","labelFontSize":9.8,"labelPadding":18,"title":"(UTC)","titleX":446,"titleY":39,"titleAlign":"center","titleBaseline":"middle","titleFontSize":13}},
     "y":{"field":"v","type":"quantitative","scale":{"domain":[15,45],"nice":false,"zero":false},"axis":{"values":[15,18.75,22.5,26.25,30,33.75,37.5,41.25,45],"labelExpr":"datum.value%7.5==0?format(datum.value,'.2f'):''","labelFontSize":14.5,"labelPadding":9,"title":"(dBZ)","titleAngle":0,"titleX":-29,"titleY":-11,"titleAlign":"center","titleBaseline":"alphabetic","titleFontSize":12.6}},
     "color":{"field":"m","type":"nominal","scale":{"domain":["I","II","III","K"],"range":["#1a35ff","#ff2a0a","#1ee61e","#222222"]},"legend":null}}},
   {"data":{"name":"d"},"transform":[{"filter":"datum.p=='d'"}],"mark":{"type":"point","opacity":0},
    "encoding":{
     "x":{"field":"s","type":"quantitative","scale":{"domain":[0,70],"nice":false,"zero":false},"axis":{"orient":"top","values":[0,8.75,17.5,26.25,35,43.75,52.5,61.25,70],"labels":false,"title":null}},
     "y":{"field":"v","type":"quantitative","scale":{"domain":[15,45],"nice":false,"zero":false},"axis":{"orient":"right","values":[15,18.75,22.5,26.25,30,33.75,37.5,41.25,45],"labels":false,"title":null}}}},
   {"data":{"name":"n"},"transform":[{"filter":"datum.p=='d'"}],
    "encoding":{
     "x":{"field":"col","type":"quantitative","scale":{"domain":[-0.48,63.68],"nice":false,"zero":false},"axis":null},
     "y":{"field":"line","type":"quantitative","scale":{"domain":[-1.034,33.966],"reverse":true,"nice":false,"zero":false},"axis":null},
     "color":{"field":"m","type":"nominal","legend":null},
     "text":{"field":"txt"}},
    "layer":[
     {"transform":[{"filter":"datum.k=='n'"}],"mark":{"type":"text","align":"left","baseline":"middle","font":"DejaVu Serif","fontSize":9.5,"strokeWidth":0.45},
      "encoding":{"stroke":{"field":"m","type":"nominal","scale":{"domain":["I","II","III","K"],"range":["#1a35ff","#ff2a0a","#1ee61e","#222222"]},"legend":null}}},
     {"transform":[{"filter":"datum.k=='mea'"}],"mark":{"type":"text","align":"right","baseline":"middle","font":"DejaVu Serif","fontSize":13.5}},
     {"transform":[{"filter":"datum.k=='lab'"}],"mark":{"type":"text","align":"right","baseline":"alphabetic","font":"Liberation Serif","fontSize":30}}
    ]}
  ],
  "resolve":{"scale":{"x":"independent","y":"independent"},"axis":{"x":"independent","y":"independent"}}}
]
}
